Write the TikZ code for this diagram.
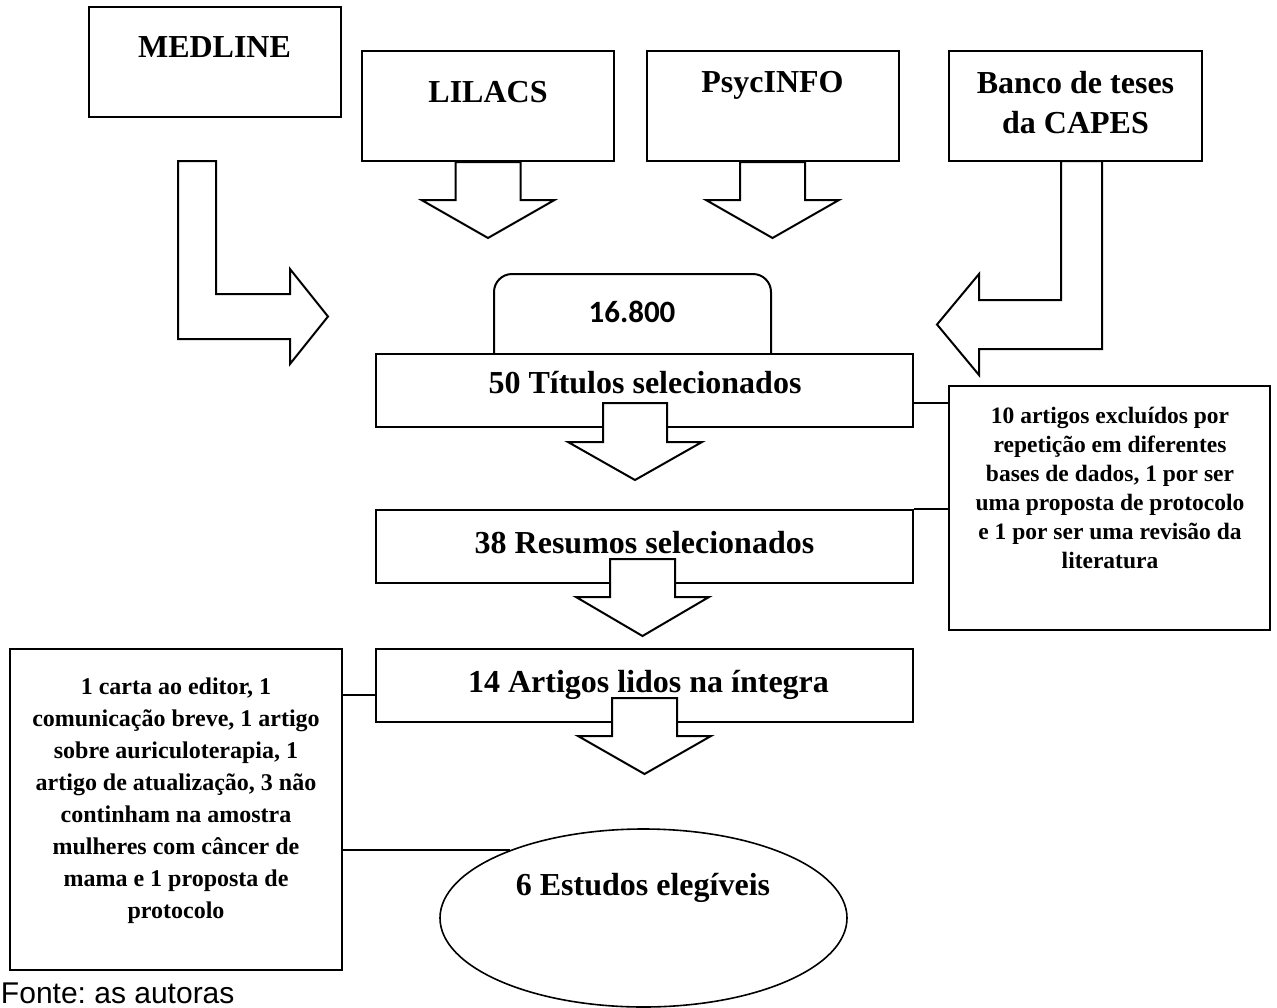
\documentclass[tikz,border=0pt]{standalone}
\usepackage{fontspec}
\setmainfont{Liberation Serif}
\newfontfamily\carlito{Carlito}
\newfontfamily\arialfont{Liberation Sans}
\usetikzlibrary{shapes.geometric}
\frenchspacing

\begin{document}
\begin{tikzpicture}[x=1pt,y=-1pt,line width=2pt,
		base box/.style={rectangle,draw,fill=white,inner sep=0pt,minimum width=252pt,minimum height=110pt},
		flow box/.style={rectangle,draw,fill=white,inner sep=0pt,minimum width=537pt,minimum height=73pt},
		note box/.style={rectangle,draw,fill=white,inner sep=0pt},
		title text/.style={anchor=base,inner sep=0pt,font=\bfseries\fontsize{32}{40}\selectfont},
		note text/.style={anchor=north,inner sep=0pt,align=center},
		block arrow/.style={draw,fill=white,line join=miter},
		link line/.style={draw}]
	\useasboundingbox (0,0) rectangle (1277,1007);
	%
	% The four databases.
	\node[base box] (medline) at (214.5,62) {};
	\node[base box] (lilacs) at (488,106) {};
	\node[base box] (psyc) at (772.5,106) {};
	\node[base box,minimum width=253pt] (capes) at (1075.5,106) {};
	\node[title text] (medline-t) at (214.5,57.5) {MEDLINE};
	\node[title text] (lilacs-t) at (488,102.5) {LILACS};
	\node[title text] (psyc-t) at (772.5,92.5) {PsycINFO};
	\node[title text,anchor=center,align=center] (capes-t) at (1075.5,102.5) {Banco de teses\\da CAPES};
	%
	% Block arrows from the databases.
	\draw[block arrow] (lilacs.south) ++(-32.5,0) -- ++(0,38) -- ++(-34,0) -- ++(66.5,38)
		-- ++(66.5,-38) -- ++(-34,0) -- ++(0,-38) -- cycle;
	\draw[block arrow] (psyc.south) ++(-32.5,0) -- ++(0,38) -- ++(-34,0) -- ++(66.5,38)
		-- ++(66.5,-38) -- ++(-34,0) -- ++(0,-38) -- cycle;
	\draw[block arrow] (178,161) -- (216,161) -- (216,294) -- (290,294) -- (290,269)
		-- (328,316.5) -- (290,364) -- (290,339) -- (178,339) -- cycle;
	\draw[block arrow] (1061,161) -- (1102,161) -- (1102,349) -- (979,349) -- (979,375)
		-- (937,324.5) -- (979,274) -- (979,300) -- (1061,300) -- cycle;
	%
	% Total found, half hidden behind the first step.
	\node[rectangle,draw,fill=white,rounded corners=18pt,minimum width=277pt,minimum height=120pt,inner sep=0pt] (total) at (632.5,334) {};
	\node[anchor=base,inner sep=0pt,font=\carlito\bfseries\fontsize{31}{37}\selectfont] (total-t) at (632,322) {16.800};
	%
	% Selection steps.
	\node[flow box] (titles) at (644.5,390.5) {};
	\node[title text] (titles-t) at (645,393.5) {50 Títulos selecionados};
	\draw[block arrow] (603,403) -- ++(0,39) -- ++(-35,0) -- ++(67,38) -- ++(67,-38)
		-- ++(-35,0) -- ++(0,-39) -- cycle;
	\node[flow box] (abstracts) at (644.5,546.5) {};
	\node[title text] (abstracts-t) at (644.5,553.5) {38 Resumos selecionados};
	\draw[block arrow] (610,559) -- ++(0,38) -- ++(-34,0) -- ++(66.5,39) -- ++(66.5,-39)
		-- ++(-34,0) -- ++(0,-38) -- cycle;
	\node[flow box] (fulltext) at (644.5,685.5) {};
	\node[title text] (fulltext-t) at (648.5,692.5) {14 Artigos lidos na íntegra};
	\draw[block arrow] (612,698) -- ++(0,38) -- ++(-34,0) -- ++(66.5,38) -- ++(66.5,-38)
		-- ++(-34,0) -- ++(0,-38) -- cycle;
	\node[ellipse,draw,fill=white,line width=1.6pt,minimum width=407pt,minimum height=178pt,inner sep=0pt] (eligible) at (643.5,918) {};
	\node[title text] (eligible-t) at (643,895.5) {6 Estudos elegíveis};
	%
	% Exclusion notes.
	\node[note box,minimum width=321pt,minimum height=244pt] (excl1) at (1109.5,508) {};
	\node[note text,font=\bfseries\fontsize{23.5}{29}\selectfont] (excl1-t) at (1110,406.5)
		{10 artigos excluídos por\\repetição em diferentes\\bases de dados, 1 por ser\\uma proposta de protocolo\\e 1 por ser uma revisão da\\literatura};
	\node[note box,minimum width=331.5pt,minimum height=321pt] (excl2) at (176,809.5) {};
	\node[note text,font=\bfseries\fontsize{24}{32}\selectfont] (excl2-t) at (176,676.6)
		{1 carta ao editor, 1\\comunicação breve, 1 artigo\\sobre auriculoterapia, 1\\artigo de atualização, 3 não\\continham na amostra\\mulheres com câncer de\\mama e 1 proposta de\\protocolo};
	%
	% Thin links to the notes.
	\draw[link line] (titles.east |- 0,403) -- (excl1.west |- 0,403);
	\draw[link line] (abstracts.north east) -- (excl1.west |- abstracts.north east);
	\draw[link line] (excl2.east |- 0,695) -- (fulltext.west |- 0,695);
	\draw[link line] (excl2.east |- eligible.153.4) -- (eligible.153.4);
	%
	\node[anchor=base west,inner sep=0pt,font=\arialfont\fontsize{30}{36}\selectfont] (source) at (0,1003) {Fonte: as autoras};
\end{tikzpicture}
\end{document}
